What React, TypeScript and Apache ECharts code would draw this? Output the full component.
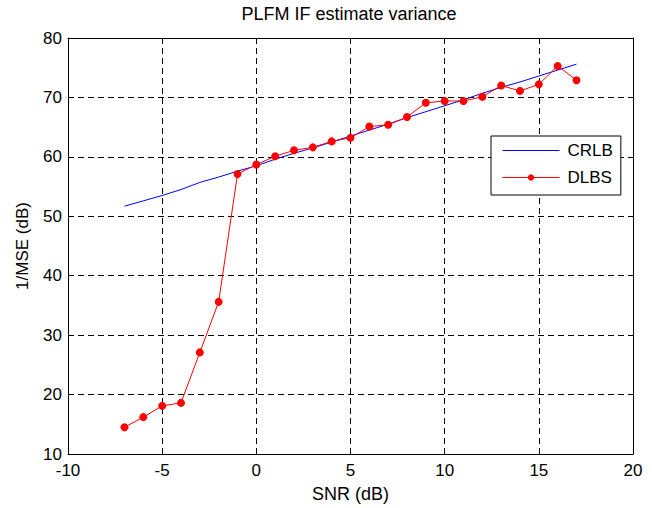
import React, { useEffect, useRef } from "react";
import * as echarts from "echarts";

const snr = [-7, -6, -5, -4, -3, -2, -1, 0, 1, 2, 3, 4, 5, 6, 7, 8, 9, 10, 11, 12, 13, 14, 15, 16, 17];
const crlb = [51.7, 52.6, 53.5, 54.5, 55.7, 56.6, 57.6, 58.5, 59.6, 60.6, 61.5, 62.5, 63.5, 64.5, 65.5, 66.6, 67.6, 68.6, 69.6, 70.7, 71.7, 72.6, 73.6, 74.6, 75.6];
const dlbs = [14.5, 16.2, 18.1, 18.6, 27.1, 35.6, 57.1, 58.7, 60.1, 61.1, 61.6, 62.6, 63.2, 65.1, 65.4, 66.7, 69.1, 69.4, 69.4, 70.1, 72.0, 71.1, 72.2, 75.3, 72.9];

const titleText = "PLFM IF estimate variance";
const xName = "SNR (dB)";
const yName = "1/MSE (dB)";
const seriesNames = ["CRLB", "DLBS"];

const FONT = "'Liberation Sans', Arial, Helvetica, sans-serif";

export default function App() {
  const ref = useRef<HTMLDivElement>(null);
  useEffect(() => {
    if (!ref.current) return;
    const chart = echarts.init(ref.current, undefined, { renderer: "svg" });
    const gridLine = { show: true, lineStyle: { color: "#000", width: 1, type: [6, 4] as any } };
    const axisLine = { show: true, onZero: false, lineStyle: { color: "#000", width: 1 } };
    const tick = { show: true, inside: true, length: 5, lineStyle: { color: "#000" } };
    chart.setOption({
      animation: false,
      backgroundColor: "#fff",
      textStyle: { fontFamily: FONT },
      title: {
        text: titleText,
        left: 349,
        top: 5,
        padding: 0,
        textAlign: "center",
        textStyle: { fontFamily: FONT, fontSize: 18, fontWeight: "normal", color: "#000" },
      },
      grid: { left: 68, right: 19, top: 38, bottom: 52, containLabel: false },
      legend: {
        orient: "vertical",
        left: 491,
        top: 136,
        padding: [6, 8, 9, 11],
        itemGap: 10,
        itemWidth: 57,
        itemHeight: 8,
        backgroundColor: "#fff",
        borderColor: "#000",
        borderWidth: 1,
        borderRadius: 0,
        lineStyle: { width: 1 },
        textStyle: { fontFamily: FONT, fontSize: 17, color: "#000", padding: [0, 0, 0, 3] },
        data: [
          { name: seriesNames[0], itemStyle: { opacity: 0 } },
          { name: seriesNames[1] },
        ],
      },
      xAxis: [
        {
          type: "value",
          min: -10,
          max: 20,
          interval: 5,
          name: xName,
          nameLocation: "middle",
          nameGap: 31,
          nameTextStyle: { fontFamily: FONT, fontSize: 18, color: "#000" },
          axisLine,
          axisTick: tick,
          axisLabel: { fontFamily: FONT, fontSize: 17, color: "#000", margin: 8 },
          splitLine: gridLine,
        },
        {
          type: "value",
          position: "top",
          min: -10,
          max: 20,
          interval: 5,
          axisLine,
          axisTick: tick,
          axisLabel: { show: false },
          splitLine: { show: false },
        },
      ],
      yAxis: [
        {
          type: "value",
          min: 10,
          max: 80,
          interval: 10,
          name: yName,
          nameLocation: "middle",
          nameGap: 37,
          nameTextStyle: { fontFamily: FONT, fontSize: 17, color: "#000" },
          axisLine,
          axisTick: tick,
          axisLabel: { fontFamily: FONT, fontSize: 17, color: "#000", margin: 6 },
          splitLine: gridLine,
        },
        {
          type: "value",
          position: "right",
          min: 10,
          max: 80,
          interval: 10,
          axisLine,
          axisTick: tick,
          axisLabel: { show: false },
          splitLine: { show: false },
        },
      ],
      series: [
        {
          name: seriesNames[0],
          type: "line",
          data: snr.map((x, i) => [x, crlb[i]]),
          showSymbol: false,
          symbol: "none",
          lineStyle: { color: "#0000ff", width: 1 },
          itemStyle: { color: "#0000ff" },
        },
        {
          name: seriesNames[1],
          type: "line",
          data: snr.map((x, i) => [x, dlbs[i]]),
          symbol: "circle",
          symbolSize: 8,
          lineStyle: { color: "#ff0000", width: 1 },
          itemStyle: { color: "#ff0000" },
        },
      ],
    });
    return () => chart.dispose();
  }, []);
  return (
    <div
      ref={ref}
      style={{ position: "fixed", left: 0, top: 0, width: 652, height: 508, background: "#fff" }}
    />
  );
}
